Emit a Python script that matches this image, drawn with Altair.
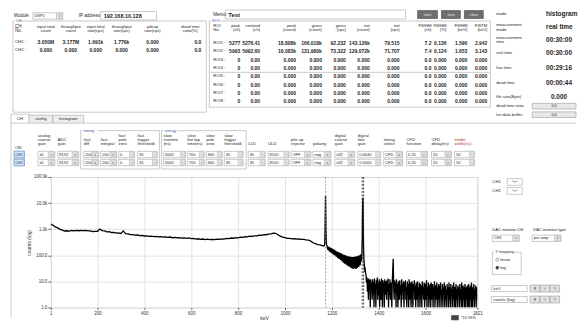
import altair as alt
import pandas as pd

FONT = "Liberation Sans"
INK = "#1e1e1e"
EDGE = "#a6a6a6"
BLUE = "#3d5da8"

# ---------------- spectrum values ----------------
lead_kev = [1, 5]
lead_counts = [1560, 1490]

continuum_start_kev = 10
continuum_step_kev = 10
continuum_counts = [
    1420, 1230, 1120, 980, 920, 850, 870, 840, 890, 860,
    900, 870, 905, 880, 900, 860, 865, 800, 820, 830,
    1010, 880, 860, 790, 800, 745, 755, 705, 715, 680,
    860, 670, 665, 620, 620, 590, 598, 565, 572, 548,
    552, 530, 545, 520, 530, 505, 520, 495, 510, 485,
    500, 470, 484, 462, 474, 452, 466, 446, 460, 432,
    440, 418, 430, 410, 420, 400, 412, 396, 410, 398,
    416, 404, 426, 418, 440, 432, 458, 450, 476, 466,
    494, 486, 514, 506, 536, 528, 558, 552, 585, 580,
    615, 612, 650, 655, 705, 695, 615, 545, 495, 470,
    448, 446, 428, 430, 414, 420, 404, 410, 390, 384,
    348, 302, 280, 258, 250, 232,
]

peak1_kev = [1165, 1168, 1170, 1171.5, 1172.5, 1173.2, 1174, 1175, 1176.5, 1178]
peak1_counts = [228, 240, 300, 1800, 9000, 18808, 6500, 900, 300, 240]

between_start_kev = 1180
between_step_kev = 3
between_counts = [
    225, 160, 215, 140, 200, 130, 190, 118, 175, 105,
    165, 98, 150, 88, 140, 80, 132, 72, 125, 66,
    118, 60, 110, 52, 105, 48, 100, 44, 96, 40,
    92, 37, 90, 34, 88, 32, 86, 30, 88, 31,
    90, 30, 92, 33, 95, 36, 100, 42, 110, 60,
]

peak2_kev = [1328.5, 1330, 1331, 1332, 1332.6, 1333.3, 1334.2, 1335.5, 1337, 1339, 1340.5]
peak2_counts = [140, 420, 3500, 12000, 16083, 7000, 1100, 180, 70, 40, 28]

tail_start_kev = 1342
tail_step_kev = 2
tail_counts = [
    30, 22, 17, 9, 14, 4, 12, 2, 13, 6, 11, 1, 12, 5, 9, 2, 12, 3, 10, 1,
    13, 4, 8, 1, 11, 6, 14, 2, 9, 3, 12, 1, 7, 10, 2, 13, 5, 1, 11, 4,
    9, 1, 12, 3, 10, 6, 2, 11, 4, 13, 1, 8, 3, 12, 2, 9, 5, 1, 10, 30,
    74, 6, 2, 11, 4, 9, 1, 12, 3, 8, 1, 10, 5, 2, 11, 3, 7, 1, 12, 4,
    8, 2, 10, 1, 9, 5, 11, 2, 6, 1, 10, 3, 8, 1, 12, 4, 2, 9, 1, 7,
    10, 3, 1, 8, 5, 11, 2, 7, 1, 9, 4, 2, 10, 1, 6, 3, 9, 1, 8, 2,
    7, 1, 10, 3, 6, 2, 9, 1, 5, 8, 2, 11, 1, 6, 3, 9, 1, 7, 2, 8,
    1, 9, 4, 2, 8, 1, 6, 3, 10, 1, 5, 7, 2, 9, 1, 6, 2, 8, 1, 7,
    3, 9, 1, 5, 2, 8, 1, 6, 4, 9, 1, 7, 2, 5, 1, 8, 3, 6, 1, 9,
    2, 6, 1, 8, 3, 5, 1, 7, 2, 9, 1, 4, 6, 1, 8, 2, 5, 1, 7, 3,
    6, 1, 8, 2, 5, 1, 9, 3, 1, 7, 2, 6, 1, 8, 4, 1, 6, 2, 7, 1,
    5, 8, 1, 6, 2, 7, 1, 9, 3, 1, 6, 2, 8, 1, 5, 3, 7, 1, 6, 2,
]

roi_marker_kev = [1173.5, 1329.5, 1335.5]
roi_marker_color = ["#8c8c8c", "#222222", "#222222"]

x_tick_values = [1, 100, 200, 300, 400, 500, 600, 700, 800, 900, 1000,
                 1100, 1200, 1300, 1400, 1500, 1600, 1700, 1821]
y_tick_values = [1, 10, 100, 1000, 10000, 100000]

# ---------------- panel texts ----------------
ch_row_labels = ["CH1 :", "CH2 :"]
ch_header_top = ["input total", "throughput", "input total", "throughput", "pileup", "dead time"]
ch_header_bottom = ["count", "count", "rate(cps)", "rate(cps)", "rate(cps)", "ratio(%)"]
ch_values = [
    ["3.050M", "3.177M", "1.691k", "1.776k", "0.000", "0.0"],
    ["0.000", "0.000", "0.000", "0.000", "0.000", "0.0"],
]

roi_row_labels = ["ROI1 :", "ROI2 :", "ROI3 :", "ROI4 :", "ROI5 :", "ROI6 :", "ROI7 :", "ROI8 :"]
roi_header_top = ["peak", "centroid", "peak", "gross", "gross", "net", "net",
                  "FWHM", "FWHM", "FWHM", "FWTM"]
roi_header_bottom = ["(ch)", "(ch)", "(count)", "(count)", "(cps)", "(count)", "(cps)",
                     "(ch)", "(%)", "(keV)", "(keV)"]
roi_values = [
    ["5277", "5276.41", "18.808k", "166.018k", "92.232", "143.126k", "79.515", "7.2", "0.136", "1.596", "2.942"],
    ["5993", "5992.60", "16.083k", "131.980k", "73.322", "129.072k", "71.707", "7.4", "0.124", "1.653", "3.143"],
    ["0", "0.00", "0.000", "0.000", "0.000", "0.000", "0.000", "0.0", "0.000", "0.000", "0.000"],
    ["0", "0.00", "0.000", "0.000", "0.000", "0.000", "0.000", "0.0", "0.000", "0.000", "0.000"],
    ["0", "0.00", "0.000", "0.000", "0.000", "0.000", "0.000", "0.0", "0.000", "0.000", "0.000"],
    ["0", "0.00", "0.000", "0.000", "0.000", "0.000", "0.000", "0.0", "0.000", "0.000", "0.000"],
    ["0", "0.00", "0.000", "0.000", "0.000", "0.000", "0.000", "0.0", "0.000", "0.000", "0.000"],
    ["0", "0.00", "0.000", "0.000", "0.000", "0.000", "0.000", "0.0", "0.000", "0.000", "0.000"],
]

info_labels = [["mode"], ["measurement", "mode"], ["measurement", "time"], ["real time"],
               ["live time"], ["dead time"], ["file size(Byte)"]]
info_values = ["histogram", "real time", "00:30:00", "00:30:00", "00:29:16", "00:00:44", "0.000"]
bar_labels = ["dead time ratio", "list data buffer"]
bar_values = ["0.0", "0.0"]

param_headers = [
    ["analog", "coarse", "gain"], ["ADC", "gain"], ["fast", "diff"], ["fast", "integral"],
    ["fast", "pole", "zero"], ["fast", "trigger", "threshold"], ["slow", "risetime", "(ns)"],
    ["slow", "flat top", "time(ns)"], ["slow", "pole", "zero"], ["slow", "trigger", "threshold"],
    ["LLD"], ["ULD"], ["pile up", "rejector"], ["polarity"], ["digital", "coarse", "gain"],
    ["digital", "fine", "gain"], ["timing", "select"], ["CFD", "function"], ["CFD", "delay(ns)"],
    ["inhibit", "width(ns)"],
]
param_kind = ["drop", "drop", "drop", "drop", "spin", "spin", "spin", "spin", "spin", "spin",
              "spin", "spin", "drop", "drop", "drop", "spin", "drop", "drop", "drop", "spin"]
param_ch1 = ["x5", "8192", "200", "200", "0", "30", "6000", "700", "660", "30",
             "30", "8100", "OFF", "neg", "x32", "0.6640", "CFD", "0.25", "50", "50"]
param_ch2 = ["x5", "8192", "200", "200", "0", "30", "6000", "700", "660", "30",
             "30", "8100", "OFF", "neg", "x32", "0.5000", "CFD", "0.25", "50", "50"]

# ---------------- layout (reference pixel positions) ----------------
OX, OY = 50, 176          # plot-area origin
PW, PH = 428, 131         # plot-area size

texts = {}
rects = []
rules = []
radios = []


def add_text(x, y, s, size=4.5, color=INK, align="left", weight="normal"):
    texts.setdefault((align, weight), []).append(
        {"px": x - OX, "py": y - OY, "text": s, "size": size, "color": color})


def add_rect(x1, y1, x2, y2, fill="white", stroke=EDGE):
    rects.append({"x1": x1 - OX, "y1": y1 - OY, "x2": x2 - OX, "y2": y2 - OY,
                  "fill": fill, "stroke": stroke})


def add_rule(x1, y1, x2, y2, color=EDGE):
    rules.append({"x1": x1 - OX, "y1": y1 - OY, "x2": x2 - OX, "y2": y2 - OY, "color": color})


def dropdown(x1, x2, yc, label, h=3.2):
    add_rect(x1, yc - h, x2, yc + h)
    add_rect(x2 - 6.5, yc - h + 0.6, x2 - 0.6, yc + h - 0.6, fill="#e4e4e4", stroke="#b4b4b4")
    add_text(x2 - 3.55, yc, "v", size=3.6, align="center", color="#444")
    add_text(x1 + 1.5, yc, label, size=4)


def spinbox(x1, x2, yc, label, h=3.2):
    add_rect(x1, yc - h, x2, yc + h)
    add_rect(x2 - 5, yc - h + 0.6, x2 - 0.6, yc + h - 0.6, fill="#ececec", stroke="#b4b4b4")
    add_text(x2 - 2.8, yc, "÷", size=4, align="center", color="#444")
    add_text(x1 + 1.5, yc, label, size=4)


def group(x1, y1, x2, y2, label, color=BLUE):
    add_rect(x1, y1, x2, y2, fill="transparent")
    w = len(label) * 2.1 + 2
    add_rect(x1 + 2, y1 - 2, x1 + 2 + w, y1 + 2, fill="white", stroke="white")
    add_text(x1 + 3, y1, label, size=4, color=color)


# page extent (keeps the picture aligned with the window)
add_rect(8, 8, 578, 317, fill="transparent", stroke="transparent")

# --- top left: module / CH table ---
add_text(13, 14.5, "Module")
dropdown(32, 62, 14.5, "DSP1")
add_text(78, 14.5, "IP address")
add_rect(100, 10, 156, 18.5)
add_text(103, 14.3, "192.168.10.128", size=5.5, weight="bold")

group(12, 19.5, 206, 111, "CH", color="#555")
add_text(14, 26, "CH")
add_text(14, 30, "No.")
ch_col_x = [45, 70, 95, 121, 152, 190]
for cx, a, b in zip(ch_col_x, ch_header_top, ch_header_bottom):
    add_text(cx, 26, a, size=4.2, align="center")
    add_text(cx, 30, b, size=4.2, align="center")
for ry, lab, vals in zip([41, 49], ch_row_labels, ch_values):
    add_text(14, ry, lab, size=4.3)
    for j, v in enumerate(vals):
        if j == len(vals) - 1:
            add_text(201, ry, v, size=5, align="right", weight="bold")
        else:
            add_text(ch_col_x[j], ry, v, size=5, align="center", weight="bold")

# --- memo and buttons ---
add_text(213, 13, "Memo:")
add_rect(225, 8.5, 406, 17.5)
add_text(228, 13, "Test", size=6, weight="bold")
for x1, x2, lab in [(418, 438, "start"), (442, 461, "stop"), (465, 484, "clear")]:
    add_rect(x1, 9, x2, 17, fill="#6e6e6e", stroke="#4a4a4a")
    add_text((x1 + x2) / 2, 13, lab, size=3.8, color="#e8e8e8", align="center")

# --- ROI table ---
group(209, 19.5, 491, 106, "ROI")
add_text(213, 24.5, "ROI", size=4.2)
add_text(213, 29, "No.", size=4.2)
roi_right = [240, 260, 296, 322, 346, 370, 400, 432, 447, 468, 488]
for rx, a, b in zip(roi_right, roi_header_top, roi_header_bottom):
    add_text(rx, 24.5, a, size=4.2, align="right")
    add_text(rx, 29, b, size=4.2, align="right")
for i, (lab, vals) in enumerate(zip(roi_row_labels, roi_values)):
    ry = 41.5 + 8.36 * i
    add_text(213, ry, lab, size=4.2)
    for rx, v in zip(roi_right, vals):
        add_text(rx, ry, v, size=5, align="right", weight="bold")
add_rule(210, 71, 490, 71)

# --- info panel ---
info_y = [12.5, 26, 38.5, 51.5, 66.5, 81.5, 96]
for iy, labs, val in zip(info_y, info_labels, info_values):
    if len(labs) == 1:
        add_text(497, iy, labs[0], size=4.2)
    else:
        add_text(497, iy - 2.2, labs[0], size=4.2)
        add_text(497, iy + 2.2, labs[1], size=4.2)
    if val == "0.000":
        add_text(560, iy, val, size=6.5, align="center", weight="bold")
    else:
        add_text(547, iy, val, size=6.5, weight="bold")
for by, lab, val in zip([105, 113.5], bar_labels, bar_values):
    add_text(497, by, lab, size=4.2)
    add_rect(533, by - 2.8, 577, by + 2.8, fill="#e8e8e8", stroke="#9a9a9a")
    add_text(555, by, val, size=3.8, align="center")

# --- tabs ---
add_rule(10, 122, 10, 317)
add_rule(83, 122, 577, 122)
add_rect(28, 114, 52, 122, fill="#eeeeee")
add_rect(52, 114, 83, 122, fill="#eeeeee")
add_rect(10, 113, 28, 122, fill="white")
add_text(19, 118, "CH", size=4.3, align="center")
add_text(40, 118, "config", size=4.3, align="center")
add_text(67.5, 118, "histogram", size=4.3, align="center")

# --- parameter rows ---
param_x = [(37, 54), (57, 78), (83, 98), (100, 116), (118, 134), (137, 157), (163, 185),
           (187, 204), (206, 222), (224, 243), (248, 265), (268, 289), (291, 311),
           (313, 331), (335, 355), (358, 381), (384, 403), (407, 428), (432, 452), (455, 475)]
group(80, 129.5, 159, 168, "timing")
group(161, 129.5, 246, 168, "energy")
add_text(14, 146.5, "ON", size=4.3)
row_y = [153.5, 161.5]
for ry, lab in zip(row_y, ["CH1", "CH2"]):
    add_rect(13, ry - 3.4, 23.5, ry + 3.4, fill="#d4e4f5", stroke="#3c78b4")
    add_text(18.25, ry, lab, size=4, align="center", color="#1d3f6e")
    add_text(26, ry, ":", size=4.3)
for (x1, x2), lines, kind, v1, v2 in zip(param_x, param_headers, param_kind, param_ch1, param_ch2):
    n = len(lines)
    hcol = "#b03a2e" if lines[0] == "inhibit" else INK
    for k, ln in enumerate(lines):
        add_text(x1, 143 - (n - 1 - k) * 4.2, ln, size=4.2, color=hcol)
    for ry, v in zip(row_y, [v1, v2]):
        if kind == "drop":
            dropdown(x1, x2, ry, v)
        else:
            spinbox(x1, x2, ry, v)

# --- right of the plot ---
for ly, lab in [(181, "CH1"), (190, "CH2")]:
    add_text(493, ly, lab, size=4.3)
    add_rect(508, ly - 3.4, 523, ly + 3.4)
    add_text(515.5, ly, "^v^", size=4, align="center", color="#555")
add_text(493, 229, "DAC monitor CH", size=4.2)
add_text(534, 229, "DAC monitor type", size=4.2)
dropdown(493, 520, 237.5, "CH1")
dropdown(533, 562, 237.5, "pre amp")
group(493, 251.5, 522, 274, "Y mapping", color="#333")
radios.append({"px": 498 - OX, "py": 259 - OY, "fill": "white"})
radios.append({"px": 498 - OX, "py": 267 - OY, "fill": "#333333"})
add_text(501, 259, "linear", size=4.2)
add_text(501, 267, "log", size=4.2)
for yb, lab in [(288, "keV"), (299, "counts (log)")]:
    add_rect(492, yb - 3, 528, yb + 3)
    add_text(494, yb, lab, size=4.2)
    for bx, g in [(531, "8"), (541, "½"), (551, "¼")]:
        add_rect(bx, yb - 3.5, bx + 9.5, yb + 3.5, fill="#e2e2e2", stroke="#999")
        add_text(bx + 4.75, yb, g, size=4, align="center")
add_rect(452, 315, 459, 319.5, fill="#444", stroke="#444")
add_text(461.5, 317.3, "*10  96%", size=4)

# ---------------- build the chart ----------------
kev = list(lead_kev) + [continuum_start_kev + continuum_step_kev * i for i in range(len(continuum_counts))]
cnt = list(lead_counts) + list(continuum_counts)
kev += peak1_kev
cnt += peak1_counts
kev += [between_start_kev + between_step_kev * i for i in range(len(between_counts))]
cnt += between_counts
kev += peak2_kev
cnt += peak2_counts
kev += [tail_start_kev + tail_step_kev * i for i in range(len(tail_counts))]
cnt += tail_counts
spec = pd.DataFrame({"keV": kev, "counts": cnt}).sort_values("keV")

x_scale = alt.Scale(domain=[1, 1821], nice=False, zero=False)
y_scale = alt.Scale(type="log", domain=[1, 100000], nice=False)

x_axis = alt.Axis(values=x_tick_values, title="keV", format="d", labelFontSize=4.5, titleFontSize=5,
                  labelFont=FONT, titleFont=FONT, titleFontWeight="normal", tickSize=2,
                  labelPadding=1, titlePadding=1, grid=True, gridColor="#d6d6d6", gridWidth=0.7,
                  domain=False, tickColor="#666", labelColor="#333", titleColor="#333",
                  labelFlush=False, labelOverlap=False)
y_axis = alt.Axis(values=y_tick_values, title="counts (log)",
                  labelExpr="datum.value >= 1000 ? format(datum.value / 1000, '.1f') + 'k' : format(datum.value, '.1f')",
                  labelFontSize=4.5, titleFontSize=5, labelFont=FONT, titleFont=FONT,
                  titleFontWeight="normal", tickSize=3, labelPadding=1, titlePadding=2,
                  grid=True, gridColor="#d6d6d6", gridWidth=0.7, domain=False, tickColor="#666",
                  labelColor="#333", titleColor="#333")

spectrum = alt.Chart(spec).mark_line(color="#000000", strokeWidth=1.3, clip=True).encode(
    x=alt.X("keV:Q", scale=x_scale, axis=x_axis),
    y=alt.Y("counts:Q", scale=y_scale, axis=y_axis),
)

markers = alt.Chart(pd.DataFrame({"keV": roi_marker_kev, "color": roi_marker_color})).mark_rule(
    strokeDash=[2, 1.5], strokeWidth=0.8).encode(
    x=alt.X("keV:Q", scale=x_scale),
    color=alt.Color("color:N", scale=None, legend=None),
)

boxes = alt.Chart(pd.DataFrame(rects)).mark_rect(strokeWidth=0.6).encode(
    x=alt.X("x1:Q", scale=None, axis=None), x2="x2:Q",
    y=alt.Y("y1:Q", scale=None, axis=None), y2="y2:Q",
    fill=alt.Fill("fill:N", scale=None, legend=None),
    stroke=alt.Stroke("stroke:N", scale=None, legend=None),
)

lines_ui = alt.Chart(pd.DataFrame(rules)).mark_rule(strokeWidth=0.6).encode(
    x=alt.X("x1:Q", scale=None, axis=None), x2="x2:Q",
    y=alt.Y("y1:Q", scale=None, axis=None), y2="y2:Q",
    color=alt.Color("color:N", scale=None, legend=None),
)

radio = alt.Chart(pd.DataFrame(radios)).mark_point(shape="circle", size=9, strokeWidth=0.5,
                                                   stroke="#444", opacity=1).encode(
    x=alt.X("px:Q", scale=None, axis=None),
    y=alt.Y("py:Q", scale=None, axis=None),
    fill=alt.Fill("fill:N", scale=None, legend=None),
)

text_layers = []
for (align, weight), rows in texts.items():
    text_layers.append(
        alt.Chart(pd.DataFrame(rows)).mark_text(align=align, baseline="middle", fontWeight=weight,
                                                font=FONT).encode(
            x=alt.X("px:Q", scale=None, axis=None),
            y=alt.Y("py:Q", scale=None, axis=None),
            text="text:N",
            size=alt.Size("size:Q", scale=None, legend=None),
            color=alt.Color("color:N", scale=None, legend=None),
        )
    )

chart = alt.layer(boxes, spectrum, markers, lines_ui, radio, *text_layers).properties(
    width=PW, height=PH, padding=0
).configure_view(stroke="#8c8c8c", strokeWidth=0.8).configure(font=FONT)

chart.save("out.html", embed_options={"renderer": "svg", "actions": False})
